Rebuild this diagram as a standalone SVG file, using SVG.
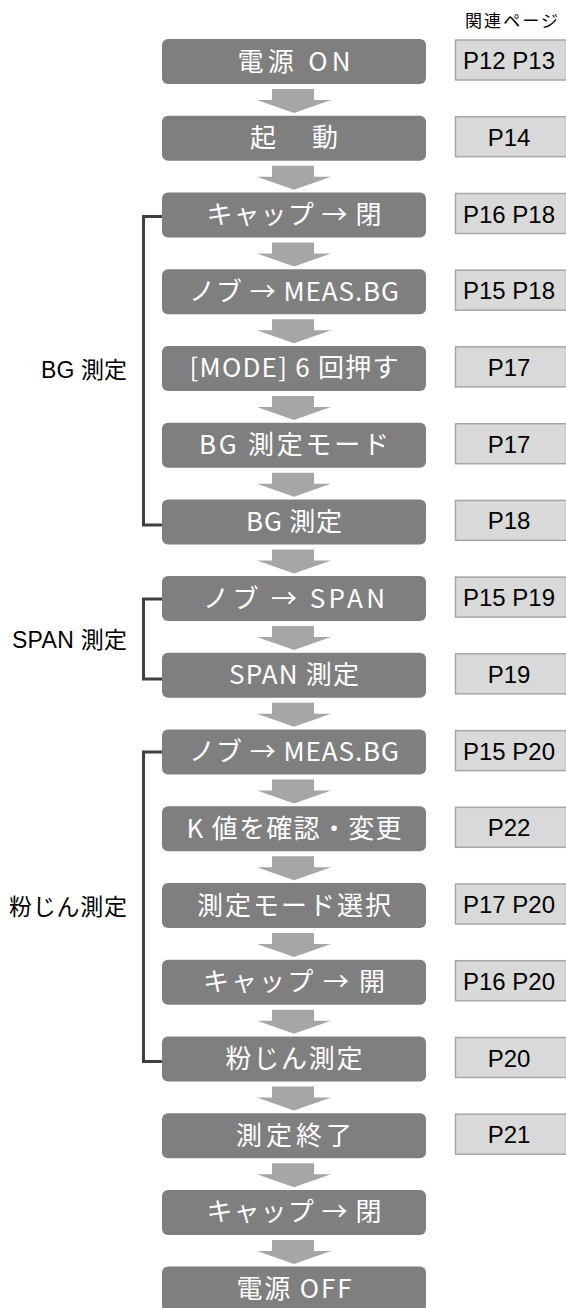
<svg xmlns="http://www.w3.org/2000/svg" width="566" height="1308" viewBox="0 0 566 1308">
<style>
.node rect{fill:#7f7f7f}
.node text{fill:#ffffff;font-family:"Noto Sans CJK JP","Liberation Sans",sans-serif;font-size:26px;font-weight:400;text-anchor:middle}
.arr{fill:#a6a6a6}
.page rect{fill:#d9d9d9;stroke:#a6a6a6;stroke-width:1.5}
.page text{fill:#000;font-family:"Liberation Sans","Noto Sans CJK JP",sans-serif;font-size:24px;text-anchor:middle}
.br{fill:none;stroke:#404040;stroke-width:3}
.lbl{fill:#000;font-family:"Liberation Sans","Noto Sans CJK JP",sans-serif;font-size:23px;text-anchor:end}
</style>
<defs>
<path id="ar" d="M272,0 H314 V11 H331 L294,24 L257,11 H272 Z"/>
</defs>
<text x="558" y="27" font-family="'Noto Sans CJK JP',sans-serif" font-size="17" text-anchor="end" textLength="93">関連ページ</text>

<g id="connectors">
<use href="#ar" class="arr" y="89"/>
<use href="#ar" class="arr" y="165.7"/>
<use href="#ar" class="arr" y="242.5"/>
<use href="#ar" class="arr" y="319.2"/>
<use href="#ar" class="arr" y="395.9"/>
<use href="#ar" class="arr" y="472.7"/>
<use href="#ar" class="arr" y="549.4"/>
<use href="#ar" class="arr" y="626.1"/>
<use href="#ar" class="arr" y="702.8"/>
<use href="#ar" class="arr" y="779.6"/>
<use href="#ar" class="arr" y="856.3"/>
<use href="#ar" class="arr" y="933"/>
<use href="#ar" class="arr" y="1009.7"/>
<use href="#ar" class="arr" y="1086.5"/>
<use href="#ar" class="arr" y="1163.2"/>
<use href="#ar" class="arr" y="1239.9"/>
<path class="br" d="M162,216.5 H143.5 V525 H162"/>
<path class="br" d="M162,599 H143.5 V679 H162"/>
<path class="br" d="M162,752 H143.5 V1061.5 H162"/>
</g>

<g id="labels">
<text class="lbl" x="127" y="378" textLength="86">BG 測定</text>
<text class="lbl" x="127" y="648" textLength="115">SPAN 測定</text>
<text class="lbl" x="127" y="915" textLength="118">粉じん測定</text>
</g>

<g id="n1" class="node"><rect x="162" y="39" width="264" height="45" rx="6"/><text x="294" y="70.5" textLength="113">電源 ON</text></g>
<g id="n2" class="node"><rect x="162" y="115.7" width="264" height="45" rx="6"/><text x="294" y="147.2" textLength="88">起 動</text></g>
<g id="n3" class="node"><rect x="162" y="192.5" width="264" height="45" rx="6"/><text x="294" y="224" textLength="175">キャップ → 閉</text></g>
<g id="n4" class="node"><rect x="162" y="269.2" width="264" height="45" rx="6"/><text x="294" y="300.7" textLength="210">ノブ → MEAS.BG</text></g>
<g id="n5" class="node"><rect x="162" y="345.9" width="264" height="45" rx="6"/><text x="294" y="377.4" textLength="209">[MODE] 6 回押す</text></g>
<g id="n6" class="node"><rect x="162" y="422.7" width="264" height="45" rx="6"/><text x="294" y="454.2" textLength="190">BG 測定モード</text></g>
<g id="n7" class="node"><rect x="162" y="499.4" width="264" height="45" rx="6"/><text x="294" y="530.9" textLength="96">BG 測定</text></g>
<g id="n8" class="node"><rect x="162" y="576.1" width="264" height="45" rx="6"/><text x="294" y="607.6" textLength="182">ノブ → SPAN</text></g>
<g id="n9" class="node"><rect x="162" y="652.8" width="264" height="45" rx="6"/><text x="294" y="684.3" textLength="130">SPAN 測定</text></g>
<g id="n10" class="node"><rect x="162" y="729.6" width="264" height="45" rx="6"/><text x="294" y="761.1" textLength="210">ノブ → MEAS.BG</text></g>
<g id="n11" class="node"><rect x="162" y="806.3" width="264" height="45" rx="6"/><text x="294" y="837.8" textLength="215">K 値を確認・変更</text></g>
<g id="n12" class="node"><rect x="162" y="883" width="264" height="45" rx="6"/><text x="294" y="914.5" textLength="194">測定モード選択</text></g>
<g id="n13" class="node"><rect x="162" y="959.7" width="264" height="45" rx="6"/><text x="294" y="991.2" textLength="182">キャップ → 開</text></g>
<g id="n14" class="node"><rect x="162" y="1036.5" width="264" height="45" rx="6"/><text x="294" y="1068" textLength="137">粉じん測定</text></g>
<g id="n15" class="node"><rect x="162" y="1113.2" width="264" height="45" rx="6"/><text x="294" y="1144.7" textLength="116">測定終了</text></g>
<g id="n16" class="node"><rect x="162" y="1189.9" width="264" height="45" rx="6"/><text x="294" y="1221.4" textLength="175">キャップ → 閉</text></g>
<g id="n17" class="node"><rect x="162" y="1266.6" width="264" height="45" rx="6"/><text x="294" y="1298.1" textLength="115">電源 OFF</text></g>

<g id="p1" class="page"><rect x="455.5" y="40" width="111" height="40"/><text x="509" y="69">P12 P13</text></g>
<g id="p2" class="page"><rect x="455.5" y="116.7" width="111" height="40"/><text x="509" y="145.7">P14</text></g>
<g id="p3" class="page"><rect x="455.5" y="193.5" width="111" height="40"/><text x="509" y="222.5">P16 P18</text></g>
<g id="p4" class="page"><rect x="455.5" y="270.2" width="111" height="40"/><text x="509" y="299.2">P15 P18</text></g>
<g id="p5" class="page"><rect x="455.5" y="346.9" width="111" height="40"/><text x="509" y="375.9">P17</text></g>
<g id="p6" class="page"><rect x="455.5" y="423.7" width="111" height="40"/><text x="509" y="452.7">P17</text></g>
<g id="p7" class="page"><rect x="455.5" y="500.4" width="111" height="40"/><text x="509" y="529.4">P18</text></g>
<g id="p8" class="page"><rect x="455.5" y="577.1" width="111" height="40"/><text x="509" y="606.1">P15 P19</text></g>
<g id="p9" class="page"><rect x="455.5" y="653.8" width="111" height="40"/><text x="509" y="682.8">P19</text></g>
<g id="p10" class="page"><rect x="455.5" y="730.6" width="111" height="40"/><text x="509" y="759.6">P15 P20</text></g>
<g id="p11" class="page"><rect x="455.5" y="807.3" width="111" height="40"/><text x="509" y="836.3">P22</text></g>
<g id="p12" class="page"><rect x="455.5" y="884" width="111" height="40"/><text x="509" y="913">P17 P20</text></g>
<g id="p13" class="page"><rect x="455.5" y="960.7" width="111" height="40"/><text x="509" y="989.7">P16 P20</text></g>
<g id="p14" class="page"><rect x="455.5" y="1037.5" width="111" height="40"/><text x="509" y="1066.5">P20</text></g>
<g id="p15" class="page"><rect x="455.5" y="1114.2" width="111" height="40"/><text x="509" y="1143.2">P21</text></g>
</svg>
